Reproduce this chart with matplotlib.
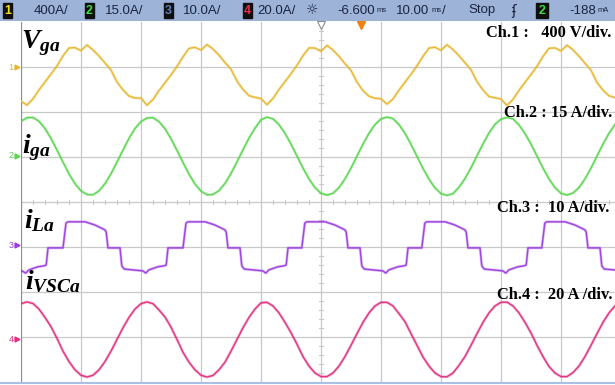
import numpy as np
import matplotlib
matplotlib.use("Agg")
import matplotlib.pyplot as plt

W, H = 615, 385

# ---- acquisition data (10 ms/div, one sample per ms) ----
t_ms = np.arange(100)

# grid phase voltage, V
v_ga = [-305,
        -338, -284, -204, -133, -62, 9, 98, 169, 172, 145, 196, 151, 98, 36, -27, -133, -204, -258, -276, -276,
        -340, -290, -210, -140, -70, 5, 90, 165, 175, 150, 200, 160, 105, 40, -20, -125, -200, -255, -270, -280,
        -335, -280, -200, -130, -60, 15, 100, 170, 168, 140, 192, 150, 95, 30, -30, -135, -210, -260, -278, -282,
        -330, -285, -206, -135, -65, 10, 95, 168, 176, 148, 198, 155, 100, 38, -25, -130, -205, -262, -274, -285,
        -342, -288, -208, -136, -66, 6, 94, 166, 170, 142, 194, 152, 96, 34, -28, -138, -206, -256, -272]

# grid current, A
i_ga = [11.9, 13.1, 13.2, 11.9, 9.5, 6.2, 2.3, -1.7, -5.6, -8.9, -11.3, -12.5, -12.6, -11.3, -8.9, -5.6, -1.7, 2.3, 6.2, 9.5,
        11.8, 13.0, 13.1, 11.8, 9.4, 6.1, 2.2, -1.8, -5.7, -9.0, -11.4, -12.6, -12.5, -11.2, -8.8, -5.5, -1.6, 2.4, 6.3, 9.6,
        12.4, 13.3, 12.7, 10.8, 7.9, 4.3, 0.3, -3.7, -7.3, -10.2, -12.1, -12.7, -12.1, -10.2, -7.3, -3.7, 0.3, 4.3, 7.9, 10.8,
        12.7, 13.3, 12.8, 10.8, 7.9, 4.2, 0.2, -3.8, -7.4, -10.3, -12.2, -12.8, -12.2, -10.1, -7.2, -3.6, 0.4, 4.4, 8.0, 10.9,
        12.6, 13.2, 12.7, 10.7, 7.8, 4.3, 0.3, -3.7, -7.3, -10.2, -12.1, -12.7, -12.0, -10.2, -7.3, -3.7, 0.3, 4.3, 7.9, 10.8]

# nonlinear load current, A (breakpoints: time in ms, current in A)
i_la_t = [0.0, 0.8, 1.3, 2.8, 3.8, 4.2, 4.5, 7.0, 7.5, 7.8, 10.7, 12.3, 14.0, 14.2, 14.5, 16.5, 16.8, 17.2, 18.7,
          20.3, 20.8, 21.3, 22.8, 23.8, 24.2, 24.5, 27.0, 27.5, 27.8, 30.7, 32.3, 34.0, 34.2, 34.5, 36.5, 36.8, 37.2, 38.7,
          40.3, 40.8, 41.3, 42.8, 43.8, 44.2, 44.5, 46.8, 47.3, 47.6, 50.7, 52.3, 54.0, 54.2, 54.5, 56.5, 56.8, 57.2, 58.7,
          60.3, 60.8, 61.3, 62.8, 63.8, 64.2, 64.5, 66.8, 67.3, 67.6, 70.7, 72.3, 74.0, 74.2, 74.5, 76.5, 76.8, 77.2, 78.7,
          80.3, 80.8, 81.3, 82.8, 83.8, 84.2, 84.5, 86.8, 87.3, 87.6, 90.7, 92.3, 94.0, 94.2, 94.5, 96.5, 96.8, 97.2, 99.0]
i_la = [-5.2, -5.8, -5.1, -4.4, -4.2, -4.0, -0.2, -0.2, 5.3, 5.6, 5.6, 4.9, 3.8, 3.3, -0.2, -0.2, -4.2, -4.9, -5.1,
        -5.3, -5.8, -5.1, -4.4, -4.2, -4.0, -0.2, -0.2, 5.3, 5.6, 5.6, 4.9, 3.8, 3.3, -0.2, -0.2, -4.2, -4.9, -5.1,
        -5.3, -5.8, -5.1, -4.4, -4.2, -4.0, -0.2, -0.2, 5.3, 5.6, 5.6, 4.9, 3.8, 3.3, -0.2, -0.2, -4.2, -4.9, -5.1,
        -5.3, -5.8, -5.1, -4.4, -4.2, -4.0, -0.2, -0.2, 5.3, 5.6, 5.6, 4.9, 3.8, 3.3, -0.2, -0.2, -4.2, -4.9, -5.1,
        -5.3, -5.8, -5.1, -4.4, -4.2, -4.0, -0.2, -0.2, 5.3, 5.6, 5.6, 4.9, 3.8, 3.3, -0.2, -0.2, -4.2, -4.9, -5.1]

# VSC output current, A
i_vsc = [14.8, 15.6, 14.9, 12.4, 8.7, 4.6, -0.6, -6.3, -10.9, -14.6, -17.0, -17.8, -17.0, -14.6, -10.9, -6.3, -1.1, 4.1, 8.7, 12.4,
         14.8, 15.6, 14.8, 12.0, 8.9, 4.4, -1.1, -6.8, -11.2, -14.6, -17.0, -17.8, -17.1, -14.6, -11.2, -6.3, -1.1, 4.1, 8.7, 12.4,
         15.2, 15.4, 13.8, 10.7, 6.5, 1.9, -3.2, -8.7, -12.9, -16.0, -17.6, -17.6, -16.0, -12.9, -8.7, -3.7, 1.5, 6.5, 10.7, 13.8,
         15.4, 15.4, 13.8, 10.4, 6.8, 1.5, -3.7, -8.9, -12.9, -16.0, -17.6, -17.7, -16.0, -12.6, -8.7, -3.7, 1.5, 6.5, 10.7, 13.8,
         15.4, 15.5, 13.8, 10.7, 6.5, 1.8, -3.7, -8.7, -13.1, -16.0, -17.6, -17.6, -15.8, -12.9, -8.7, -3.7, 1.5, 6.5, 10.7, 13.8]

# channel settings
ch_scale = [400, 15, 10, 20]          # units per division
ch_ref = [3, 1, -1, -3]               # reference level, divisions from centre
ch_color = ["#e6b830", "#5ad64e", "#9a3ee0", "#e0307e"]
ch_label = [r"$V_{ga}$", r"$i_{ga}$", r"$i_{La}$", r"$i_{VSCa}$"]
ch_note = ["Ch.1 :   400 V/div.", "Ch.2 : 15 A/div.", "Ch.3 :  10 A/div.", "Ch.4 :  20 A /div."]

bar_scales = ["400A/", "15.0A/", "10.0A/", "20.0A/"]
bar_box_color = ["#f0e020", "#40e040", "#6080c0", "#e03050"]

plt.rcParams["mathtext.fontset"] = "custom"
plt.rcParams["mathtext.it"] = "Liberation Serif:italic:bold"
plt.rcParams["mathtext.rm"] = "Liberation Serif:bold"
plt.rcParams["mathtext.bf"] = "Liberation Serif:bold"

fig = plt.figure(figsize=(W / 100, H / 100), dpi=100)
fig.patch.set_facecolor("white")


def fx(x):
    return x / W


def fy(y):
    return 1 - y / H


# graticule: 10 x 8 divisions, 60 px by 45 px
gx0, gy0, gw, gh = 21, 22, 600, 360
ax = fig.add_axes([fx(gx0), fy(gy0 + gh), gw / W, gh / H])
ax.set_xlim(0, 100)
ax.set_ylim(-4, 4)
ax.set_facecolor("white")
for s in ax.spines.values():
    s.set_visible(False)
ax.set_xticks([])
ax.set_yticks([])

grid_c = "#c9c9c9"
for k in range(1, 10):
    ax.axvline(k * 10, color=grid_c, lw=0.9, zorder=1)
for k in range(-3, 4):
    ax.axhline(k, color=grid_c, lw=0.9, zorder=1)
# minor ticks on the centre lines
for k in range(0, 51):
    xx = k * 2
    ax.plot([xx, xx], [-0.05, 0.05], color=grid_c, lw=0.8, zorder=1)
for k in range(-20, 21):
    yy = k * 0.2
    ax.plot([49.6, 50.4], [yy, yy], color=grid_c, lw=0.8, zorder=1)
ax.axvline(0, color="#8c8c8c", lw=1.6, zorder=2)

# traces
traces = [(t_ms, v_ga), (t_ms, i_ga), (i_la_t, i_la), (t_ms, i_vsc)]
for (tt, vals), sc, ref, col in zip(traces, ch_scale, ch_ref, ch_color):
    y = ref + np.asarray(vals, dtype=float) / sc
    ax.plot(tt, y, color=col, lw=2.0, alpha=0.35, zorder=3, solid_joinstyle="round")
    ax.plot(tt, y, color=col, lw=1.0, alpha=0.95, zorder=4, solid_joinstyle="round")

# trigger / time reference markers
ax.plot([50], [3.93], marker="v", ms=6, mfc="white", mec="#8c8c8c", mew=0.8, clip_on=False, zorder=5)
ax.plot([56.6], [3.93], marker="v", ms=6, color="#f08010", clip_on=False, zorder=5)

# bottom edge of the display
fig.add_artist(plt.Line2D([0, 1], [fy(383), fy(383)], color="#a8c0e4", lw=1.5))

# status bar
bar = fig.add_axes([0, fy(21), 1, 21 / H])
bar.set_xlim(0, W)
bar.set_ylim(21, 0)
bar.axis("off")
bar.add_patch(plt.Rectangle((0, 0), W, 21, color="#9db3d8"))

bar_font = dict(family="Liberation Sans", fontsize=9.5, color="#1a2440", va="center")
unit_font = dict(family="Liberation Sans", fontsize=5.5, color="#1a2440", va="center", ha="left")
box_x = [3, 85, 164, 243]
txt_x = [34, 105, 183, 257]
for n, (bx, tx, lab, bc) in enumerate(zip(box_x, txt_x, bar_scales, bar_box_color)):
    bar.add_patch(plt.Rectangle((bx, 3), 9, 15, color="#101010"))
    bar.text(bx + 4.5, 10.5, str(n + 1), ha="center", va="center",
             family="Liberation Sans", fontsize=9, color=bc, fontweight="bold")
    bar.text(tx, 10.5, lab, ha="left", **bar_font)
bar.text(312, 10.5, "\u263c", ha="center", va="center", fontsize=10, color="#1a2440", family="DejaVu Sans")
bar.text(337, 10.5, "-6.600", ha="left", **bar_font)
bar.text(377, 10.5, "ms", **unit_font)
bar.text(396, 10.5, "10.00", ha="left", **bar_font)
bar.text(432, 10.5, "ms", **unit_font)
bar.text(442, 10.5, "/", ha="left", **bar_font)
bar.text(468, 10.5, "Stop", ha="left", **bar_font)
bar.text(514, 10.5, "\u0284", ha="center", va="center", fontsize=10, color="#1a2440", family="DejaVu Sans")
bar.add_patch(plt.Rectangle((536, 3), 12, 15, color="#101010"))
bar.text(542, 10.5, "2", ha="center", va="center", family="Liberation Sans", fontsize=9,
         color="#40e040", fontweight="bold")
bar.text(569, 10.5, "-188", ha="left", **bar_font)
bar.text(598, 10.5, "mA", **unit_font)

# channel reference markers on the left edge
marker_y = [67, 156, 245, 339]
for i, (my, col) in enumerate(zip(marker_y, ch_color)):
    fig.text(fx(11), fy(my), str(i + 1), color=col, fontsize=6.5, ha="center", va="center",
             family="Liberation Sans")
    fig.add_artist(plt.Line2D([fx(17)], [fy(my)], marker=">", ms=3.5, color=col))

# trace names
label_pos = [(21, 48), (22, 153), (24, 228), (25, 289)]
for (lx, ly), lab in zip(label_pos, ch_label):
    fig.text(fx(lx), fy(ly), lab, fontsize=20, ha="left", va="baseline", color="black")

# channel scale notes
note_pos = [(486, 37), (504, 117), (497, 212), (497, 299)]
for (nx, ny), note in zip(note_pos, ch_note):
    fig.text(fx(nx), fy(ny), note, fontsize=11.8, ha="left", va="baseline", color="black",
             family="Liberation Serif", fontweight="bold")

fig.savefig("out.png", dpi=100)
